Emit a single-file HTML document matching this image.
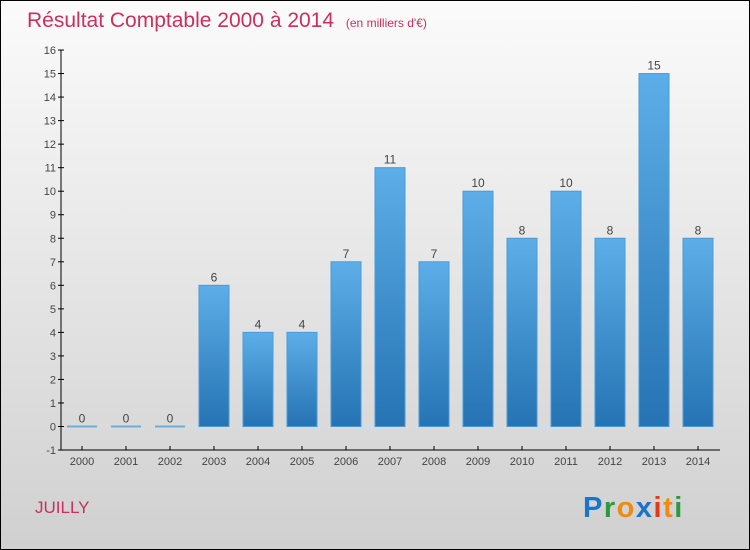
<!DOCTYPE html>
<html><head><meta charset="utf-8"><style>
html,body{margin:0;padding:0}
body{width:750px;height:550px;overflow:hidden;font-family:"Liberation Sans",sans-serif}
#wrap{position:absolute;left:0;top:0;width:748px;height:548px;border:1px solid #000;background:linear-gradient(#fbfbfb,#d0d0d0)}
</style></head><body>
<div id="wrap">
<svg id="chart" width="750" height="550" style="position:absolute;left:-1px;top:-1px">
<defs><linearGradient id="bg" x1="0" y1="0" x2="0" y2="1"><stop offset="0" stop-color="#5daee8"/><stop offset="1" stop-color="#2573b3"/></linearGradient></defs>
<text x="27" y="27" font-size="21" fill="#c8305f">Résultat Comptable 2000 à 2014 <tspan font-size="12" dx="6">(en milliers d'€)</tspan></text>
<text x="35" y="513" font-size="17" fill="#c8305f">JUILLY</text>
<g font-size="29" font-weight="bold" font-family="'Liberation Sans',sans-serif">
<text x="583" y="517" letter-spacing="1.5"><tspan fill="#1a74c8">P</tspan><tspan fill="#2a9a3a">r</tspan><tspan fill="#f08a10">o</tspan><tspan fill="#1a74c8">x</tspan><tspan fill="#e03a1a">i</tspan><tspan fill="#f08a10">t</tspan><tspan fill="#2a9a3a">i</tspan></text></g>
<g id="plot"></g>
</svg></div>
<script>
const years=["2000","2001","2002","2003","2004","2005","2006","2007","2008","2009","2010","2011","2012","2013","2014"];
const values=[0,0,0,6,4,4,7,11,7,10,8,10,8,15,8];
const yTicks=[-1,0,1,2,3,4,5,6,7,8,9,10,11,12,13,14,15,16];
const NS="http://www.w3.org/2000/svg";
const g=document.getElementById('plot');
const y=v=>426.5-(v)*400/17;
const x=i=>82+i*44;
function mk(t,a){const e=document.createElementNS(NS,t);for(const k in a)e.setAttribute(k,a[k]);g.appendChild(e);return e;}
let ax=mk('line',{x1:61,y1:50,x2:61,y2:450,stroke:'#000'});


let bx=mk('line',{x1:61,y1:450,x2:720,y2:450,stroke:'#000'});


yTicks.forEach(v=>{
 mk('line',{x1:58,x2:64,y1:y(v),y2:y(v),stroke:'#000'});
 const t=mk('text',{x:56,y:y(v)+4,'text-anchor':'end','font-size':11,fill:'#444'});t.textContent=v;
 
 
});
years.forEach((yr,i)=>{
 mk('line',{x1:x(i),x2:x(i),y1:446,y2:450,stroke:'#000'});
 const t=mk('text',{x:x(i),y:465,'text-anchor':'middle','font-size':11,fill:'#444'});t.textContent=yr;
 
 
 const v=values[i];
 let r;
 if(v===0){r=mk('rect',{x:x(i)-15,y:y(0)-1,width:30,height:2,fill:'#6aaee0'});}
 else{r=mk('rect',{x:x(i)-15,y:y(v),width:30,height:y(0)-y(v),fill:'url(#bg)',stroke:'#4a9ad8','stroke-width':1});}
 
 
 const l=mk('text',{x:x(i),y:y(v)-4,'text-anchor':'middle','font-size':12,fill:'#444'});l.textContent=v;
 
 
});
</script>
</body></html>
